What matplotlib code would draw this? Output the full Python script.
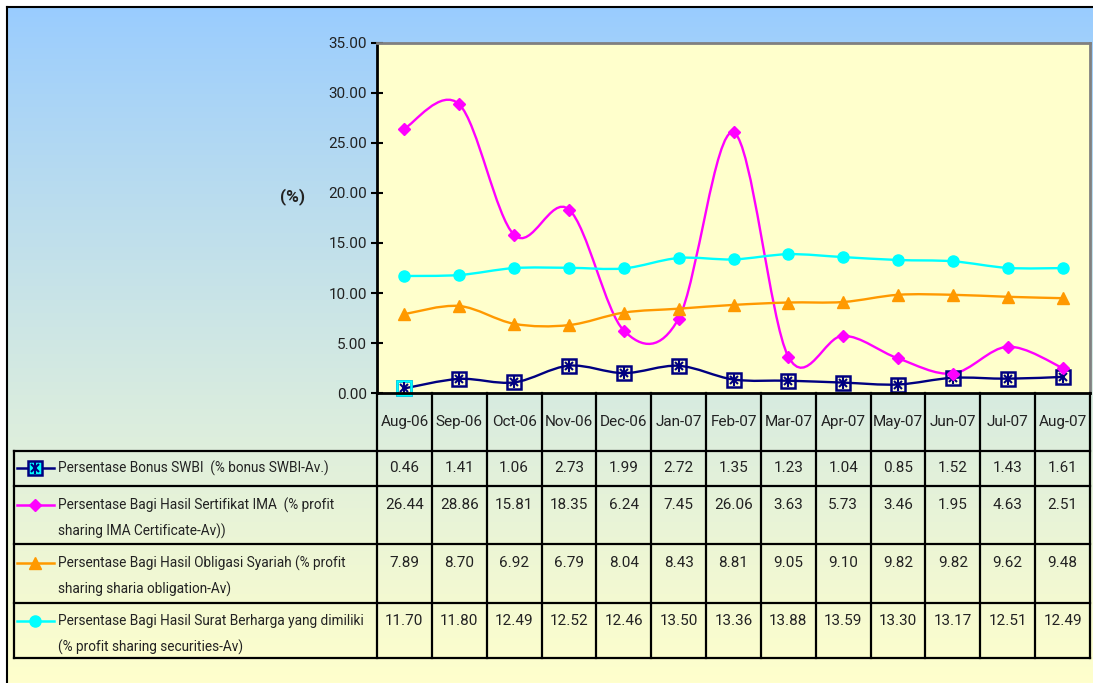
import numpy as np
import matplotlib
matplotlib.use("Agg")
import matplotlib.pyplot as plt
from matplotlib.path import Path
from matplotlib.patches import PathPatch
from matplotlib.lines import Line2D
import matplotlib.transforms as mtransforms

# data
months = ["Aug-06", "Sep-06", "Oct-06", "Nov-06", "Dec-06", "Jan-07", "Feb-07",
          "Mar-07", "Apr-07", "May-07", "Jun-07", "Jul-07", "Aug-07"]
swbi = [0.46, 1.41, 1.06, 2.73, 1.99, 2.72, 1.35, 1.23, 1.04, 0.85, 1.52, 1.43, 1.61]
ima = [26.44, 28.86, 15.81, 18.35, 6.24, 7.45, 26.06, 3.63, 5.73, 3.46, 1.95, 4.63, 2.51]
obligasi = [7.89, 8.70, 6.92, 6.79, 8.04, 8.43, 8.81, 9.05, 9.10, 9.82, 9.82, 9.62, 9.48]
surat = [11.70, 11.80, 12.49, 12.52, 12.46, 13.50, 13.36, 13.88, 13.59, 13.30, 13.17, 12.51, 12.49]

labels = [
    ["Persentase Bonus SWBI  (% bonus SWBI-Av.)"],
    ["Persentase Bagi Hasil Sertifikat IMA  (% profit", "sharing IMA Certificate-Av))"],
    ["Persentase Bagi Hasil Obligasi Syariah (% profit", "sharing sharia obligation-Av)"],
    ["Persentase Bagi Hasil Surat Berharga yang dimiliki", "(% profit sharing securities-Av)"],
]

W, H = 1093, 683
plt.rcParams['font.family'] = ["Roboto", "DejaVu Sans"]
FS = 11
FS_LAB = 9.8
TXT = "#222222"

fig = plt.figure(figsize=(W / 100, H / 100), dpi=100)

# background gradient
bg = fig.add_axes([0, 0, 1, 1], zorder=-10)
bg.set_xlim(0, W)
bg.set_ylim(H, 0)
bg.axis("off")
top_c = np.array([153, 204, 255]) / 255
bot_c = np.array([255, 255, 204]) / 255
t = np.linspace(0, 1, 256)[:, None] ** 0.9
grad = (top_c[None, :] * (1 - t) + bot_c[None, :] * t)[:, None, :]
bg.imshow(grad, extent=[7, W, H, 7], aspect="auto")
bg.plot([7, W], [7, 7], color="black", lw=1.5)
bg.plot([7, 7], [7, H], color="black", lw=1.5)


def fx(px):
    return px / W


def fy(py):
    return 1 - py / H


ax_l, ax_r, ax_t, ax_b = 377, 1090, 43, 393
ax = fig.add_axes([fx(ax_l), fy(ax_b), fx(ax_r) - fx(ax_l), fy(ax_t) - fy(ax_b)])
ax.set_facecolor("#FFFFCC")
x = np.arange(len(months))
ax.set_xlim(-0.5, len(months) - 0.5)
ax.set_ylim(0, 35)
ax.set_yticks(np.arange(0, 36, 5))
ax.set_yticklabels(["%.2f" % v for v in np.arange(0, 36, 5)], fontsize=FS, color=TXT)
ax.set_xticks([])
ax.tick_params(axis="y", direction="inout", length=8, width=1.5, pad=3)
ax.spines["left"].set_linewidth(2)
ax.spines["bottom"].set_linewidth(2)
for s in ["top", "right"]:
    ax.spines[s].set_color("#808080")
    ax.spines[s].set_linewidth(2)
ax.text(fx(293), fy(197), "(%)", transform=fig.transFigure, ha="center", va="center",
        fontsize=12.5, fontweight="bold", color=TXT)


def smooth_path(xs, ys):
    xs = np.asarray(xs, float)
    ys = np.asarray(ys, float)
    px = np.concatenate([[xs[0]], xs, [xs[-1]]])
    py = np.concatenate([[ys[0]], ys, [ys[-1]]])
    verts = [(xs[0], ys[0])]
    codes = [Path.MOVETO]
    for i in range(1, len(px) - 2):
        c1 = (px[i] + (px[i + 1] - px[i - 1]) / 6, py[i] + (py[i + 1] - py[i - 1]) / 6)
        c2 = (px[i + 1] - (px[i + 2] - px[i]) / 6, py[i + 1] - (py[i + 2] - py[i]) / 6)
        verts += [c1, c2, (px[i + 1], py[i + 1])]
        codes += [Path.CURVE4] * 3
    return Path(verts, codes)


series = [
    (swbi, "#000080", "s"),
    (ima, "#FF00FF", "D"),
    (obligasi, "#FF9900", "^"),
    (surat, "#00FFFF", "o"),
]

for vals, col, mk in series:
    ax.add_patch(PathPatch(smooth_path(x, vals), facecolor="none", edgecolor=col, lw=1.7, clip_on=False))
    if mk == "s":
        ax.plot(x, vals, ls="none", marker="s", ms=9.5, mfc="none", mec=col, mew=1.8, clip_on=False)
        ax.plot(x[:1], vals[:1], ls="none", marker="s", ms=9.5, mfc="none", mec="#00FFFF", mew=1.8, clip_on=False)
        ax.plot(x, vals, ls="none", marker="x", ms=6, mec=col, mew=1.5, clip_on=False)
        ax.plot(x, vals, ls="none", marker="|", ms=9, mec=col, mew=1.5, clip_on=False)
    else:
        ms = {"D": 6.5, "^": 8, "o": 8}[mk]
        ax.plot(x, vals, ls="none", marker=mk, ms=ms, mfc=col, mec=col, clip_on=False)

# data table
blend = mtransforms.blended_transform_factory(ax.transData, fig.transFigure)
row_lines = [451, 486, 544, 603, 658]
tbl_left = 14
lw = 1.6
for ry in row_lines:
    fig.add_artist(Line2D([fx(tbl_left), fx(ax_r)], [fy(ry), fy(ry)], color="black", lw=lw))
for i in range(len(months) + 1):
    fig.add_artist(Line2D([i - 0.5, i - 0.5], [fy(ax_b), fy(658)], color="black", lw=lw, transform=blend))
fig.add_artist(Line2D([fx(tbl_left), fx(tbl_left)], [fy(451), fy(658)], color="black", lw=lw))

for i, m in enumerate(months):
    fig.text(i, fy(422), m, transform=blend, ha="center", va="center", fontsize=FS, color=TXT)

line1_y = [468, 505, 563, 621]
for r, (vals, col, mk) in enumerate(series):
    y1 = line1_y[r]
    for i, v in enumerate(vals):
        fig.text(i, fy(y1), "%.2f" % v, transform=blend, ha="center", va="center",
                 fontsize=FS, color=TXT)
    for k, line in enumerate(labels[r]):
        fig.text(fx(58), fy(y1 + 26 * k), line, ha="left", va="center", fontsize=FS_LAB, color=TXT)
    fig.add_artist(Line2D([fx(17), fx(54)], [fy(y1), fy(y1)], color=col, lw=1.8))
    if mk == "s":
        fig.add_artist(Line2D([fx(35)], [fy(y1)], ls="none", marker="s", ms=9.5, mfc="#00FFFF", mec=col, mew=1.8))
        fig.add_artist(Line2D([fx(35)], [fy(y1)], ls="none", marker="x", ms=6, mec=col, mew=1.5))
        fig.add_artist(Line2D([fx(35)], [fy(y1)], ls="none", marker="|", ms=9, mec=col, mew=1.5))
    else:
        ms = {"D": 6.5, "^": 8, "o": 8}[mk]
        fig.add_artist(Line2D([fx(35)], [fy(y1)], ls="none", marker=mk, ms=ms, mfc=col, mec=col))

fig.savefig("out.png", dpi=100)
